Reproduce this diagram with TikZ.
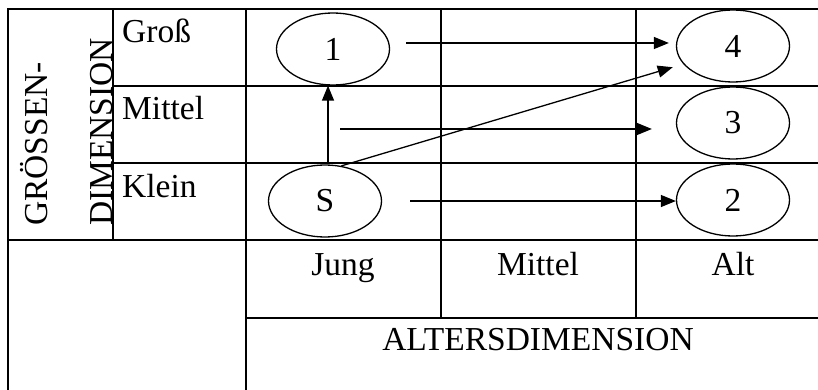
\documentclass[tikz,border=0pt]{standalone}
\usepackage{fontspec}
\setmainfont{Liberation Serif}
\usetikzlibrary{shapes.geometric,arrows.meta}

\begin{document}
\begin{tikzpicture}[x=1pt, y=-1pt,
        font=\fontsize{33.5}{38}\selectfont,
        grid/.style={line width=2pt},
        state/.style={ellipse, draw=black, line width=1.3pt, minimum width=113pt, minimum height=72pt, inner sep=0pt},
        lbl/.style={anchor=base west, inner sep=0pt},
        arr/.style={line width=1.3pt, -{Triangle[length=15pt, width=12pt]}}]
        \clip (0,0) rectangle (818,390);

        % table lines
        \draw[grid] (8,390) -- (8,9) -- (818,9);
        \draw[grid] (113,86) -- (818,86) (113,163) -- (818,163);
        \draw[grid] (8,240) -- (818,240) (246,318) -- (818,318);
        \draw[grid] (113,9) -- (113,240) (246,9) -- (246,390);
        \draw[grid] (441,9) -- (441,318) (636,9) -- (636,318);

        % labels
        \node[anchor=base, inner sep=0pt, rotate=90, name=groessen] at (47,144) {GRÖSSEN-};
        \node[anchor=base, inner sep=0pt, rotate=90, name=dimension] at (112,132) {DIMENSION};
        \node[lbl, name=gross] at (122,43) {Groß};
        \node[lbl, name=mittelg] at (122,120) {Mittel};
        \node[lbl, name=klein] at (122,197) {Klein};
        \node[anchor=base, inner sep=0pt, name=jung] at (343,275) {Jung};
        \node[anchor=base, inner sep=0pt, name=mittela] at (538,275) {Mittel};
        \node[anchor=base, inner sep=0pt, name=alt] at (733,275) {Alt};
        \node[anchor=base, inner sep=0pt, name=alter] at (538,350) {ALTERSDIMENSION};

        % states
        \node[state, name=S] at (325,201) {S};
        \node[state, name=one] at (333,49) {1};
        \node[state, name=four] at (733,46) {4};
        \node[state, name=three] at (733,123) {3};
        \node[state, name=two] at (733,200) {2};
        \coordinate (m) at (340,129);

        \draw[arr] ([xshift=3pt]S.north) -- ([xshift=3pt]S.north |- one.south);
        \draw[arr, shorten >=11pt] (S.65) -- (four.200);
        \draw[arr, shorten <=16pt, shorten >=7pt] ([yshift=6pt]one.east) -- ([yshift=6pt]one.east -| four.west);
        \draw[arr, shorten >=24pt] (m) -- (m -| three.west);
        \draw[arr, shorten <=28pt] (S.east) -- (S.east -| two.west);
    \end{tikzpicture}
\end{document}
